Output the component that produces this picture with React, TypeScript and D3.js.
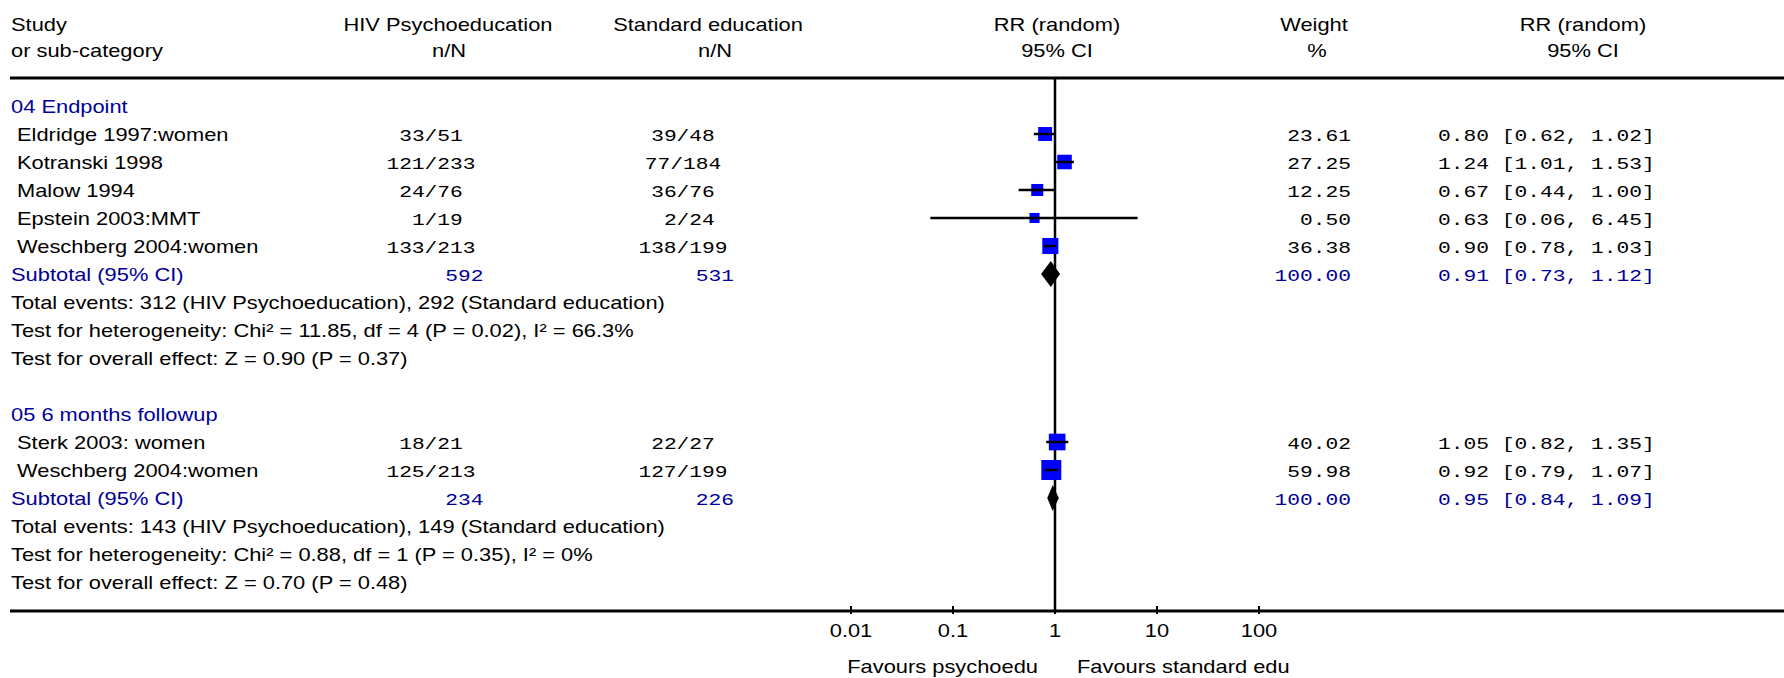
import React from "react";
import * as d3 from "d3";

// ---------- data ----------
const colHeaders1 = ["Study", "HIV Psychoeducation", "Standard education", "RR (random)", "Weight", "RR (random)"];
const colHeaders2 = ["or sub-category", "n/N", "n/N", "95% CI", "%", "95% CI"];

const g1Title = "04 Endpoint";
const g1Studies = ["Eldridge 1997:women", "Kotranski 1998", "Malow 1994", "Epstein 2003:MMT", "Weschberg 2004:women"];
const g1TreatEvents = [33, 121, 24, 1, 133];
const g1TreatTotal = [51, 233, 76, 19, 213];
const g1CtrlEvents = [39, 77, 36, 2, 138];
const g1CtrlTotal = [48, 184, 76, 24, 199];
const g1Weight = [23.61, 27.25, 12.25, 0.5, 36.38];
const g1RR = [0.8, 1.24, 0.67, 0.63, 0.9];
const g1Lo = [0.62, 1.01, 0.44, 0.06, 0.78];
const g1Hi = [1.02, 1.53, 1.0, 6.45, 1.03];
const g1Sub = { treat: 592, ctrl: 531, weight: 100.0, rr: 0.91, lo: 0.73, hi: 1.12 };
const g1Notes = [
  "Total events: 312 (HIV Psychoeducation), 292 (Standard education)",
  "Test for heterogeneity: Chi² = 11.85, df = 4 (P = 0.02), I² = 66.3%",
  "Test for overall effect: Z = 0.90 (P = 0.37)",
];

const g2Title = "05 6 months followup";
const g2Studies = ["Sterk 2003: women", "Weschberg 2004:women"];
const g2TreatEvents = [18, 125];
const g2TreatTotal = [21, 213];
const g2CtrlEvents = [22, 127];
const g2CtrlTotal = [27, 199];
const g2Weight = [40.02, 59.98];
const g2RR = [1.05, 0.92];
const g2Lo = [0.82, 0.79];
const g2Hi = [1.35, 1.07];
const g2Sub = { treat: 234, ctrl: 226, weight: 100.0, rr: 0.95, lo: 0.84, hi: 1.09 };
const g2Notes = [
  "Total events: 143 (HIV Psychoeducation), 149 (Standard education)",
  "Test for heterogeneity: Chi² = 0.88, df = 1 (P = 0.35), I² = 0%",
  "Test for overall effect: Z = 0.70 (P = 0.48)",
];

const tickValues = [0.01, 0.1, 1, 10, 100];
const tickLabels = ["0.01", "0.1", "1", "10", "100"];
const favoursLeft = "Favours psychoedu";
const favoursRight = "Favours standard edu";

// ---------- layout ----------
const W = 1784;
const H = 678;
const SX = 1.25;
const SANS = "'Liberation Sans', Arial, sans-serif";
const MONO = "'Liberation Mono', 'Courier New', monospace";
const BLUE = "#000099";

const x = d3.scaleLog().domain([0.01, 100]).range([851, 1259]);
const rowY = d3.scaleLinear().domain([0, 1]).range([106, 134]);
const boxSize = d3.scaleLinear().domain([0, 60]).range([10, 20]);

const fmtN = (e: number, n: number) => `${String(e).padStart(2, " ")}/${n}`;
const fmtCI = (r: number, l: number, h: number) => `${r.toFixed(2)} [${l.toFixed(2)}, ${h.toFixed(2)}]`;

function T(props: { x: number; y: number; anchor?: string; mono?: boolean; color?: string; size?: number; children: React.ReactNode }) {
  const { x: tx, y: ty, anchor = "start", mono = false, color = "#000", size, children } = props;
  return (
    <text
      transform={`translate(${tx},${ty}) scale(${SX},1)`}
      textAnchor={anchor}
      fontFamily={mono ? MONO : SANS}
      fontSize={size ?? (mono ? 17 : 17.5)}
      fill={color}
      style={{ whiteSpace: "pre" }}
    >
      {children}
    </text>
  );
}

type Group = {
  title: string;
  studies: string[];
  te: number[];
  tt: number[];
  ce: number[];
  ct: number[];
  w: number[];
  rr: number[];
  lo: number[];
  hi: number[];
  sub: { treat: number; ctrl: number; weight: number; rr: number; lo: number; hi: number };
  notes: string[];
  start: number;
};

const groups: Group[] = [
  { title: g1Title, studies: g1Studies, te: g1TreatEvents, tt: g1TreatTotal, ce: g1CtrlEvents, ct: g1CtrlTotal, w: g1Weight, rr: g1RR, lo: g1Lo, hi: g1Hi, sub: g1Sub, notes: g1Notes, start: 0 },
  { title: g2Title, studies: g2Studies, te: g2TreatEvents, tt: g2TreatTotal, ce: g2CtrlEvents, ct: g2CtrlTotal, w: g2Weight, rr: g2RR, lo: g2Lo, hi: g2Hi, sub: g2Sub, notes: g2Notes, start: 11 },
];

const TOP_LINE = 78;
const AXIS_Y = 611;
const X_HIV = 431;
const X_STD = 683;
const X_HIV_SUB = 483.5;
const X_STD_SUB = 734;
const X_WEIGHT = 1351;
const X_RR = 1438;
const TXT = 7;

export default function App() {
  const headerX = [11, 448, 708, 1057, 1314, 1583];
  const header2X = [11, 449, 715, 1057, 1317, 1583];
  return (
    <svg width={W} height={H} style={{ position: "absolute", left: 0, top: 0, background: "#fff" }}>
      {colHeaders1.map((h, i) => (
        <T key={"h1" + i} x={headerX[i]} y={31} anchor={i === 0 ? "start" : "middle"}>{h}</T>
      ))}
      {colHeaders2.map((h, i) => (
        <T key={"h2" + i} x={header2X[i]} y={57} anchor={i === 0 ? "start" : "middle"}>{h}</T>
      ))}
      <line x1={10} x2={W} y1={TOP_LINE} y2={TOP_LINE} stroke="#000" strokeWidth={3} />
      <line x1={x(1)} x2={x(1)} y1={TOP_LINE} y2={AXIS_Y} stroke="#000" strokeWidth={2.5} />

      {groups.map((g, gi) => {
        const y0 = rowY(g.start);
        const ySub = rowY(g.start + g.studies.length + 1);
        return (
          <g key={"g" + gi}>
            <T x={11} y={y0 + TXT} color={BLUE}>{g.title}</T>
            {g.studies.map((s, i) => {
              const y = rowY(g.start + 1 + i);
              const b = boxSize(g.w[i]);
              return (
                <g key={"s" + i}>
                  <T x={17} y={y + TXT}>{s}</T>
                  <T x={X_HIV} y={y + TXT} anchor="middle" mono>{fmtN(g.te[i], g.tt[i])}</T>
                  <T x={X_STD} y={y + TXT} anchor="middle" mono>{fmtN(g.ce[i], g.ct[i])}</T>
                  <T x={X_WEIGHT} y={y + TXT} anchor="end" mono>{g.w[i].toFixed(2)}</T>
                  <T x={X_RR} y={y + TXT} mono>{fmtCI(g.rr[i], g.lo[i], g.hi[i])}</T>
                  <rect x={x(g.rr[i]) - b / 2} y={y - b / 2} width={b} height={b} fill="#0000ff" />
                  <line x1={x(g.lo[i])} x2={x(g.hi[i])} y1={y} y2={y} stroke="#000" strokeWidth={2.5} />
                </g>
              );
            })}
            <T x={11} y={ySub + TXT} color={BLUE}>Subtotal (95% CI)</T>
            <T x={X_HIV_SUB} y={ySub + TXT} anchor="end" mono color={BLUE}>{String(g.sub.treat)}</T>
            <T x={X_STD_SUB} y={ySub + TXT} anchor="end" mono color={BLUE}>{String(g.sub.ctrl)}</T>
            <T x={X_WEIGHT} y={ySub + TXT} anchor="end" mono color={BLUE}>{g.sub.weight.toFixed(2)}</T>
            <T x={X_RR} y={ySub + TXT} mono color={BLUE}>{fmtCI(g.sub.rr, g.sub.lo, g.sub.hi)}</T>
            <polygon
              points={[
                [x(g.sub.lo), ySub],
                [x(g.sub.rr), ySub - 13],
                [x(g.sub.hi), ySub],
                [x(g.sub.rr), ySub + 13],
              ].map((p) => p.join(",")).join(" ")}
              fill="#000"
            />
            {g.notes.map((n, i) => (
              <T key={"n" + i} x={11} y={rowY(g.start + g.studies.length + 2 + i) + TXT}>{n}</T>
            ))}
          </g>
        );
      })}

      <line x1={10} x2={W} y1={AXIS_Y} y2={AXIS_Y} stroke="#000" strokeWidth={3} />
      {tickValues.map((t, i) => (
        <g key={"t" + i}>
          <line x1={x(t)} x2={x(t)} y1={AXIS_Y - 5} y2={AXIS_Y + 3} stroke="#000" strokeWidth={2} />
          <T x={x(t)} y={637} anchor="middle">{tickLabels[i]}</T>
        </g>
      ))}
      <T x={x(1) - 17} y={673} anchor="end">{favoursLeft}</T>
      <T x={x(1) + 22} y={673}>{favoursRight}</T>
    </svg>
  );
}
